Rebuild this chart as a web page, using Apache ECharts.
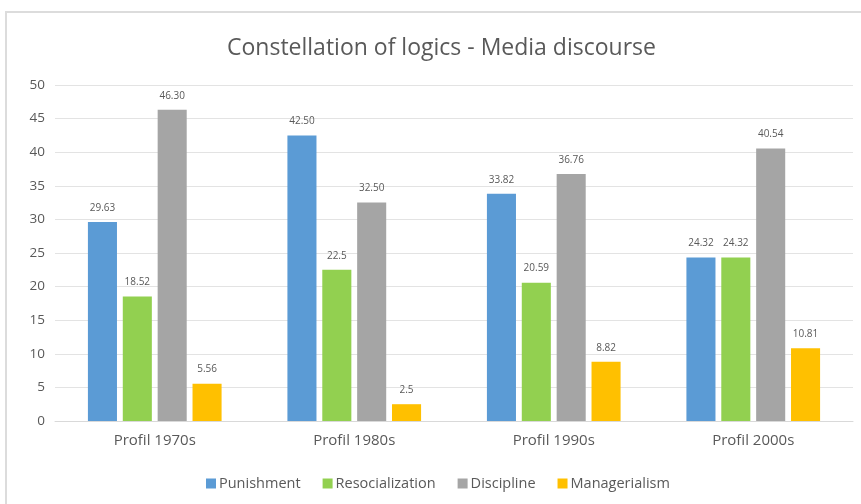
<!DOCTYPE html>
<html>
<head>
<meta charset="utf-8">
<script src="https://cdn.jsdelivr.net/npm/echarts@6/dist/echarts.min.js"></script>
<style>
  html, body { margin: 0; padding: 0; background: #fff; }
  #chart { width: 861px; height: 504px; }
</style>
</head>
<body>
<div id="chart"></div>
<script>
// 数据
var categories = ['Profil 1970s', 'Profil 1980s', 'Profil 1990s', 'Profil 2000s'];
var seriesNames = ['Punishment', 'Resocialization', 'Discipline', 'Managerialism'];
var punishment = [29.63, 42.50, 33.82, 24.32];
var resocialization = [18.52, 22.5, 20.59, 24.32];
var discipline = [46.30, 32.50, 36.76, 40.54];
var managerialism = [5.56, 2.5, 8.82, 10.81];
// labels as printed on the chart
var punishmentLabels = ['29.63', '42.50', '33.82', '24.32'];
var resocializationLabels = ['18.52', '22.5', '20.59', '24.32'];
var disciplineLabels = ['46.30', '32.50', '36.76', '40.54'];
var managerialismLabels = ['5.56', '2.5', '8.82', '10.81'];
var yTicks = [0, 5, 10, 15, 20, 25, 30, 35, 40, 45, 50];

var colors = ['#5B9BD5', '#92D050', '#A5A5A5', '#FFC000'];
var allValues = [punishment, resocialization, discipline, managerialism];
var allLabels = [punishmentLabels, resocializationLabels, disciplineLabels, managerialismLabels];

var font = '"Open Sans", "Noto Sans", sans-serif';

var myChart = echarts.init(document.getElementById('chart'));

var series = seriesNames.map(function (name, i) {
    return {
        name: name,
        type: 'bar',
        data: allValues[i],
        barGap: '20%',
        barCategoryGap: '33%',
        itemStyle: { color: colors[i] },
        label: {
            show: true,
            position: 'top',
            distance: 9,
            color: '#595959',
            fontSize: 10,
            fontFamily: font,
            formatter: function (p) { return allLabels[i][p.dataIndex]; }
        }
    };
});

var option = {
    backgroundColor: '#fff',
    animation: false,
    color: colors,
    title: {
        text: 'Constellation of logics - Media discourse',
        left: 222,
        top: 32,
        textStyle: { fontSize: 23, fontWeight: 'normal', color: '#595959', fontFamily: font }
    },
    graphic: [{
        type: 'rect',
        shape: { x: 6, y: 12, width: 900, height: 600 },
        style: { fill: 'none', stroke: '#dcdcdc', lineWidth: 2 },
        silent: true
    }],
    legend: {
        data: seriesNames,
        bottom: 8,
        left: 201,
        itemWidth: 10,
        itemHeight: 10,
        itemGap: 22,
        icon: 'rect',
        textStyle: { fontSize: 14.5, color: '#595959', fontFamily: font, padding: [0, 0, 0, -2] }
    },
    grid: { left: 55, right: 8, top: 85, bottom: 83 },
    xAxis: {
        type: 'category',
        data: categories,
        axisLine: { lineStyle: { color: '#d9d9d9' } },
        axisTick: { show: false },
        axisLabel: { color: '#595959', fontSize: 15, fontFamily: font, margin: 12 }
    },
    yAxis: {
        type: 'value',
        min: yTicks[0],
        max: yTicks[yTicks.length - 1],
        interval: 5,
        axisLine: { show: false },
        axisTick: { show: false },
        splitLine: { lineStyle: { color: '#e3e3e3' } },
        axisLabel: { color: '#595959', fontSize: 13.5, fontFamily: font, margin: 10 }
    },
    series: series
};
myChart.setOption(option);
</script>
</body>
</html>
